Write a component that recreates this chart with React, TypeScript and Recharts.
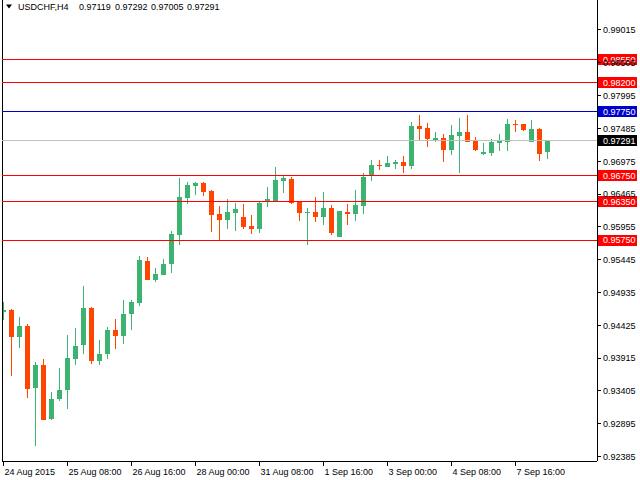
import React from 'react';
import { ComposedChart, Bar, XAxis, YAxis, ReferenceLine } from 'recharts';

const opens = [
  0.94625, 0.94667, 0.94237, 0.94419, 0.93445, 0.93813, 0.92964, 0.93274, 0.93414, 0.93895,
  0.94113, 0.94698, 0.93864, 0.93973, 0.94357, 0.94252, 0.94594, 0.9478, 0.95428, 0.95122,
  0.95215, 0.95371, 0.95832, 0.96411, 0.96593, 0.96639, 0.96515, 0.96158, 0.96069, 0.96178,
  0.96111, 0.95972, 0.9593, 0.96344, 0.96344, 0.9667, 0.96701, 0.96344, 0.96178, 0.96189,
  0.96116, 0.96251, 0.95805, 0.96189, 0.96162, 0.96287, 0.96748, 0.96919, 0.96892, 0.96939,
  0.96965, 0.96908, 0.97524, 0.97493, 0.97291, 0.97338, 0.97152, 0.97369, 0.97431, 0.97291,
  0.9709, 0.97105, 0.9726, 0.97276, 0.97555, 0.97555, 0.97276, 0.97478, 0.97119,
];
const highs = [
  0.94791, 0.94675, 0.94558, 0.94439, 0.9386, 0.93906, 0.93394, 0.93766, 0.94279, 0.94388,
  0.9504, 0.94705, 0.94201, 0.94403, 0.94527, 0.94822, 0.94822, 0.95506, 0.9549, 0.95319,
  0.95459, 0.95894, 0.96717, 0.96655, 0.96655, 0.96645, 0.9653, 0.96282, 0.96391, 0.96333,
  0.96313, 0.96142, 0.9636, 0.96577, 0.96888, 0.96763, 0.96732, 0.9636, 0.96251, 0.96422,
  0.96499, 0.96298, 0.96204, 0.96313, 0.9653, 0.96794, 0.96996, 0.96996, 0.97058, 0.96996,
  0.97058, 0.97586, 0.97695, 0.97571, 0.97431, 0.974, 0.9754, 0.97649, 0.97695, 0.97353,
  0.9726, 0.97322, 0.974, 0.97633, 0.97617, 0.9756, 0.97617, 0.97493, 0.97292,
];
const lows = [
  0.94501, 0.93631, 0.94077, 0.9329, 0.92544, 0.92948, 0.92948, 0.93243, 0.93119, 0.93802,
  0.93973, 0.93818, 0.93802, 0.93895, 0.94051, 0.94128, 0.94346, 0.94718, 0.95122, 0.95091,
  0.95215, 0.95231, 0.95681, 0.96318, 0.96458, 0.96442, 0.95883, 0.95759, 0.95925, 0.95898,
  0.9593, 0.95852, 0.95867, 0.96271, 0.96335, 0.96489, 0.96313, 0.96054, 0.95666, 0.96038,
  0.95992, 0.95836, 0.95805, 0.95992, 0.96054, 0.96162, 0.9667, 0.96841, 0.96885, 0.96857,
  0.96799, 0.96861, 0.97291, 0.97198, 0.97276, 0.96965, 0.97074, 0.96799, 0.97276, 0.97136,
  0.97074, 0.97058, 0.97136, 0.97136, 0.97431, 0.97447, 0.9727, 0.96981, 0.97005,
];
const closes = [
  0.94667, 0.94237, 0.94419, 0.9343, 0.93813, 0.92948, 0.93285, 0.93425, 0.93922, 0.94108,
  0.94698, 0.93864, 0.93984, 0.94357, 0.94252, 0.94605, 0.94791, 0.95444, 0.95122, 0.95226,
  0.95381, 0.95847, 0.96422, 0.96608, 0.96639, 0.96499, 0.96147, 0.96069, 0.96189, 0.96235,
  0.95961, 0.9593, 0.96333, 0.96391, 0.96686, 0.96717, 0.96329, 0.96178, 0.96189, 0.96116,
  0.96251, 0.95867, 0.96204, 0.96162, 0.96298, 0.96732, 0.96919, 0.96908, 0.9695, 0.9697,
  0.96908, 0.97524, 0.97478, 0.97318, 0.97338, 0.97152, 0.97384, 0.97431, 0.97276, 0.97152,
  0.97121, 0.97276, 0.97291, 0.97555, 0.9754, 0.97462, 0.97478, 0.9709, 0.97291,
];

const xTickIndex = [0, 8, 16, 24, 32, 40, 48, 56, 64];
const xTickLabels = [
  '24 Aug 2015', '25 Aug 08:00', '26 Aug 16:00', '28 Aug 00:00', '31 Aug 08:00',
  '1 Sep 16:00', '3 Sep 00:00', '4 Sep 08:00', '7 Sep 16:00',
];
const yTicks = [
  0.99015, 0.98505, 0.97995, 0.97485, 0.96975, 0.96465, 0.95955, 0.95445, 0.94935,
  0.94425, 0.93915, 0.93405, 0.92895, 0.92385,
];
const redLevels = [0.9855, 0.982, 0.9675, 0.9635, 0.9575];
const blueLevel = 0.9775;
const bidLevel = 0.97291;
const symbolTitle = 'USDCHF,H4';
const titleValues = [0.97119, 0.97292, 0.97005, 0.97291];

const X_MIN = -0.1875;
const X_MAX = 74.1875;
const Y_MAX = 0.99481;
const Y_MIN = 0.92317;
const PLOT_RIGHT = 597;
const PLOT_BOTTOM = 461;
const FONT = '"Liberation Sans", Arial, sans-serif';

const data = opens.map((o, i) => ({
  i,
  o,
  h: highs[i],
  l: lows[i],
  c: closes[i],
  range: [lows[i], highs[i]],
}));

const Candle = (props: any) => {
  const { x, y, width, height, payload } = props;
  const { o, h, l, c } = payload;
  const cx = x + width / 2;
  const k = h > l ? height / (h - l) : 0;
  const py = (p: number) => y + (h - p) * k;
  const up = c >= o;
  const color = up ? '#3cb371' : '#ff4500';
  const top = py(Math.max(o, c));
  const bot = py(Math.min(o, c));
  return (
    <g shapeRendering="crispEdges">
      <line x1={cx} x2={cx} y1={y} y2={y + height} stroke={color} strokeWidth={1} />
      <rect x={cx - 2.5} y={top} width={5} height={Math.max(bot - top, 1)} fill={color} />
    </g>
  );
};

const XTick = (props: any) => {
  const { x, payload } = props;
  const idx = xTickIndex.indexOf(payload.value);
  return (
    <g>
      <line x1={x} x2={x} y1={PLOT_BOTTOM} y2={PLOT_BOTTOM + 5} stroke="#000" shapeRendering="crispEdges" />
      <text x={x + 1} y={475} fontSize={9} fontFamily={FONT} fill="#000">
        {xTickLabels[idx]}
      </text>
    </g>
  );
};

const YTick = (props: any) => {
  const { y, payload } = props;
  return (
    <g>
      <line x1={PLOT_RIGHT} x2={PLOT_RIGHT + 4} y1={y} y2={y} stroke="#000" shapeRendering="crispEdges" />
      <text x={PLOT_RIGHT + 6} y={y + 3.3} fontSize={9} fontFamily={FONT} fill="#000">
        {Number(payload.value).toFixed(5)}
      </text>
    </g>
  );
};

const LevelTag = (props: any) => {
  const { viewBox, bg, text } = props;
  const y = viewBox.y;
  return (
    <g>
      <rect x={PLOT_RIGHT + 1} y={y - 5.5} width={39} height={11} fill={bg} shapeRendering="crispEdges" />
      <text x={PLOT_RIGHT + 6} y={y + 3.3} fontSize={9} fontFamily={FONT} fill="#fff">
        {text}
      </text>
    </g>
  );
};

export default function App() {
  return (
    <div style={{ position: 'absolute', left: 0, top: 0, width: 640, height: 480, background: '#fff' }}>
      <ComposedChart
        width={640}
        height={480}
        data={data}
        margin={{ top: 0, right: 0, bottom: 0, left: 2 }}
      >
        <XAxis
          dataKey="i"
          type="number"
          domain={[X_MIN, X_MAX]}
          ticks={xTickIndex}
          interval={0}
          allowDataOverflow
          height={19}
          axisLine={{ stroke: '#000', shapeRendering: 'crispEdges' }}
          tickLine={false}
          tick={<XTick />}
        />
        <YAxis
          orientation="right"
          type="number"
          domain={[Y_MIN, Y_MAX]}
          ticks={yTicks}
          interval={0}
          allowDataOverflow
          width={43}
          axisLine={{ stroke: '#000', shapeRendering: 'crispEdges' }}
          tickLine={false}
          tick={<YTick />}
        />
        <ReferenceLine x={X_MIN} stroke="#000" shapeRendering="crispEdges" />
        <Bar dataKey="range" barSize={5} shape={<Candle />} isAnimationActive={false} />
        <ReferenceLine
          y={bidLevel}
          stroke="#c0c0c0"
          shapeRendering="crispEdges"
          label={<LevelTag bg="#000" text={bidLevel.toFixed(5)} />}
        />
        <ReferenceLine
          y={blueLevel}
          stroke="#0000cd"
          shapeRendering="crispEdges"
          label={<LevelTag bg="#0000cd" text={blueLevel.toFixed(5)} />}
        />
        {redLevels.map((lv) => (
          <ReferenceLine
            key={lv}
            y={lv}
            stroke="#ff0000"
            shapeRendering="crispEdges"
            label={<LevelTag bg="#ff0000" text={lv.toFixed(5)} />}
          />
        ))}
      </ComposedChart>
      <svg
        width={640}
        height={30}
        style={{ position: 'absolute', left: 0, top: 0, pointerEvents: 'none' }}
      >
        <polygon points="6,4.5 12,4.5 9,8.5" fill="#000" />
        <text x={18} y={10} fontSize={9} fontFamily={FONT} fill="#000">
          {symbolTitle}
        </text>
        {titleValues.map((v, k) => (
          <text key={k} x={79 + k * 36} y={10} fontSize={9} fontFamily={FONT} fill="#000">
            {v.toFixed(5)}
          </text>
        ))}
      </svg>
    </div>
  );
}
